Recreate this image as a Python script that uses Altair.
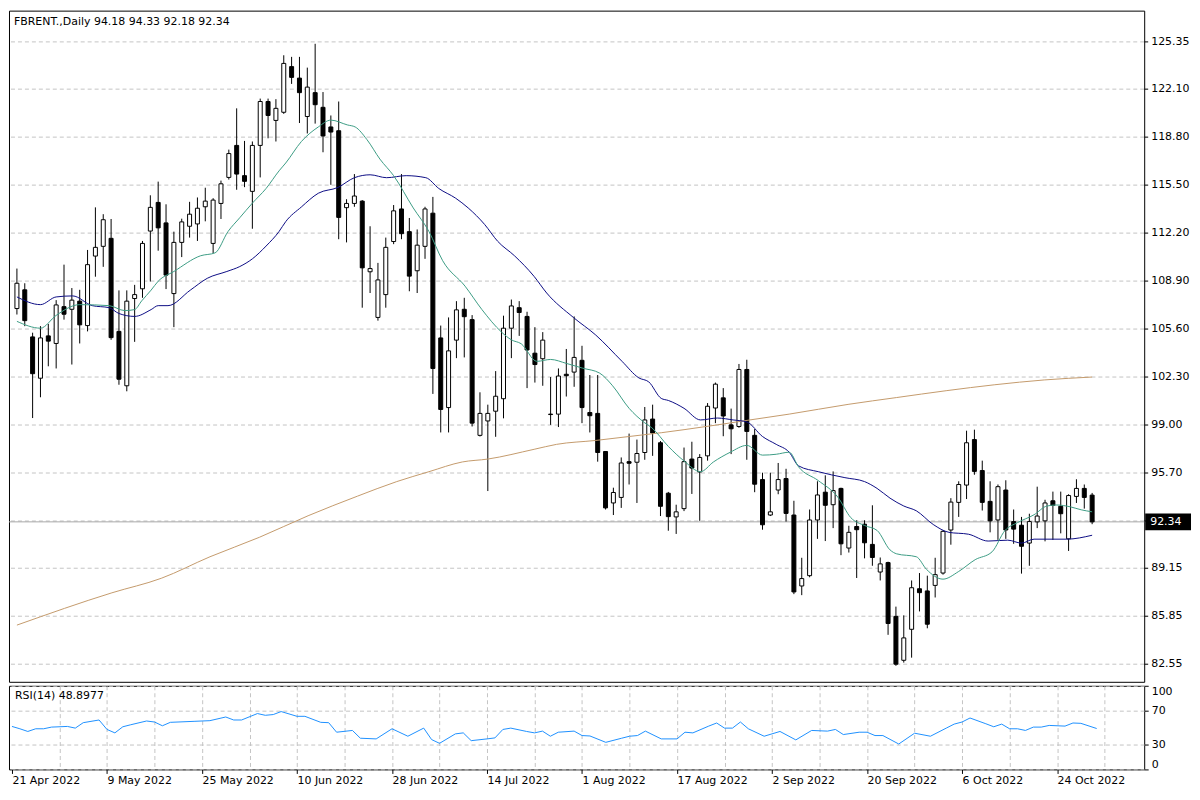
import altair as alt
import pandas as pd

# ---------------- data ----------------
opens = [107.01,108.30,105.06,102.22,105.13,104.61,107.14,106.96,107.52,105.84,
         110.62,111.29,111.84,105.44,101.70,107.70,108.37,112.34,114.31,112.90,
         108.04,111.56,112.67,112.83,114.01,111.49,114.24,116.03,118.23,116.15,
         115.07,118.23,121.25,119.95,120.51,123.65,122.86,120.22,121.86,120.85,
         119.50,119.24,113.95,114.24,114.40,109.54,106.40,107.97,111.62,113.86,
         112.30,109.61,111.29,113.57,104.99,100.20,104.84,106.96,106.25,98.29,
         99.28,99.95,100.81,105.66,107.07,106.47,103.94,103.56,99.75,99.75,
         102.49,102.64,103.45,99.86,99.80,97.18,93.64,94.02,96.48,96.44,
         97.11,99.41,97.78,94.31,92.68,93.25,96.66,95.77,96.88,100.17,
         100.87,99.01,98.90,102.82,98.29,95.25,92.81,94.53,95.32,92.81,
         87.93,88.64,92.47,94.38,93.52,94.64,90.54,92.02,92.18,90.79,
         88.89,89.54,85.84,82.82,84.95,87.74,87.59,87.97,88.82,91.78,
         93.68,94.87,98.00,95.87,93.75,92.47,94.53,92.36,92.11,90.88,
         92.34,92.41,93.79,93.41,91.17,94.09,94.64,94.18]
highs = [109.76,108.75,105.35,105.80,105.95,107.59,110.03,108.42,108.30,111.04,
         113.97,113.50,113.17,108.26,108.26,108.64,111.66,114.80,115.74,114.18,
         112.30,113.19,114.35,114.65,115.32,114.60,115.81,117.94,120.78,118.54,
         118.50,121.45,121.45,121.41,124.43,124.32,124.32,123.58,125.22,121.90,
         120.29,121.25,114.53,116.26,114.47,112.67,110.15,111.89,114.13,116.26,
         113.24,112.45,114.01,114.69,105.84,106.40,107.52,107.75,106.56,101.25,
         100.40,102.71,106.52,107.63,107.52,106.79,105.73,105.39,102.30,102.89,
         104.23,106.47,104.45,102.44,102.44,97.20,94.69,96.77,98.41,98.00,
         100.24,100.40,97.90,94.40,93.52,97.45,97.85,97.00,100.51,101.92,
         101.54,100.13,103.20,103.49,98.72,95.72,95.72,96.39,95.99,93.79,
         89.87,93.19,95.13,95.54,95.81,94.69,92.07,92.45,92.45,93.48,
         89.89,89.60,86.51,85.91,88.31,88.82,88.64,89.87,91.75,93.97,
         95.13,98.61,98.68,96.55,95.13,94.91,95.20,93.19,92.68,92.90,
         94.76,93.86,94.42,94.42,94.24,95.27,94.91,94.33]
lows = [106.60,105.80,99.48,100.91,103.04,102.89,106.25,103.16,104.61,105.44,
        109.20,109.88,104.86,101.77,101.32,104.72,107.75,108.87,110.99,108.35,
        105.73,110.55,111.89,111.66,113.01,110.82,113.17,115.88,115.18,115.36,
        112.50,116.03,118.72,118.50,120.40,122.46,119.77,119.05,119.73,117.76,
        115.52,111.78,111.56,114.01,107.07,108.08,106.18,107.07,111.44,111.78,
        108.20,108.08,110.43,101.14,98.49,98.49,103.60,103.65,98.90,98.21,
        94.46,98.19,99.46,103.60,105.13,101.54,101.92,101.70,99.01,98.86,
        100.96,101.63,99.13,98.49,96.48,93.19,92.81,93.30,94.91,93.64,
        96.61,96.88,92.74,91.73,91.51,93.08,94.26,92.41,96.55,99.13,
        98.23,97.00,98.81,96.61,94.38,91.80,92.74,94.24,92.36,87.37,
        87.30,88.53,91.17,91.02,91.91,90.05,90.23,88.48,89.83,89.32,
        88.31,84.57,82.44,82.66,83.00,86.18,85.02,87.14,88.71,90.77,
        92.68,93.91,95.58,93.12,91.62,91.10,91.17,90.83,88.78,89.32,
        91.91,91.00,91.10,91.55,90.34,93.64,93.25,92.18]
closes = [108.75,106.18,102.53,104.99,104.77,107.26,106.62,107.59,105.89,110.03,
          111.22,113.12,105.01,102.15,107.52,107.97,111.49,113.97,112.56,109.31,
          111.56,112.97,113.50,113.91,114.40,114.47,115.59,117.67,116.26,115.76,
          118.23,121.25,120.29,120.78,123.87,122.91,121.86,122.24,121.03,118.88,
          119.15,113.28,114.24,114.75,109.81,109.76,108.98,111.22,113.73,112.16,
          109.24,111.37,113.86,102.89,100.07,104.10,106.92,106.45,99.13,99.80,
          99.80,100.98,105.66,107.19,106.74,104.16,103.16,104.84,99.72,102.37,
          102.39,103.65,100.20,99.64,97.11,93.30,94.36,96.39,96.37,97.04,
          99.35,98.45,93.41,92.70,93.03,96.48,96.04,96.77,100.29,101.81,
          99.62,98.74,102.82,98.56,94.93,92.14,93.03,95.25,92.92,87.52,
          88.44,92.47,94.19,93.48,94.49,90.83,91.62,91.80,90.90,89.89,
          89.45,85.35,82.55,84.36,87.81,87.47,85.30,88.71,91.69,93.70,
          94.91,97.78,95.81,93.68,92.41,94.76,91.78,91.84,90.66,92.36,
          92.74,93.64,93.48,92.90,94.15,94.64,94.02,92.34]

tick_labels = ["21 Apr 2022", "9 May 2022", "25 May 2022", "10 Jun 2022",
               "28 Jun 2022", "14 Jul 2022", "1 Aug 2022", "17 Aug 2022",
               "2 Sep 2022", "20 Sep 2022", "6 Oct 2022", "24 Oct 2022"]
price_ticks = [125.35, 122.10, 118.80, 115.50, 112.20, 108.90, 105.60, 102.30,
               99.00, 95.70, 92.40, 89.15, 85.85, 82.55]

ma_fast_idx = [0,3,5,8,11.75,13.75,15,15.9,17.1,18,20,23.4,25.25,26.9,28.4,30,31.75,33.4,34.25,36.25,
               38.4,40,42.1,43.1,44.6,46.25,48,50.5,52.5,54.25,57.1,59.25,61.75,63,64.25,66.25,68,70,72.1,74.25,
               75.9,78,80,80.9,83,85,87.1,88.75,90.9,93,95,96.75,98.4,99.6,102.1,104.6,106.25,108,109.6,111.25,
               112.1,114.6,115.9,118,120,122.1,124.25,125.9,127.5,129.6,131.25,132.5,134.25,135.6,137]
ma_fast_val = [106.13,105.66,106.54,107.28,107.21,106.87,106.94,107.54,108.28,108.89,
               109.56,110.64,110.84,112.31,113.26,114.26,115.27,116.48,117.02,118.50,
               119.50,119.97,119.64,119.50,118.63,117.29,116.15,113.93,112.31,110.30,
               108.55,106.94,105.39,104.86,104.59,103.38,103.51,103.24,102.91,102.57,
               101.70,100.15,99.15,98.81,97.53,96.53,95.79,96.46,97.13,97.60,
               96.93,96.99,97.13,96.12,95.18,94.04,92.63,92.09,91.75,90.41,
               90.14,89.94,89.07,88.40,88.93,89.74,90.28,91.75,92.29,92.83,
               93.43,93.50,93.37,93.17,93.03]

ma_mid_idx = [0,3,5,7.1,9.6,11.75,13,15,17.1,18,19.25,22.1,24.25,26.75,28.4,30,31.75,33.4,34.25,36.25,
              38.4,40.9,43,45,47.1,49.6,52.1,53.75,55.9,57.5,59.6,61.25,63.4,65.9,67.5,70.9,73.75,77.1,79.25,80.5,
              82.1,83,85,87.1,89.25,91.25,93,95,96.75,98.4,99.6,102.1,105.5,108,109.6,111.25,113,114.6,116.75,118.75,
              121.25,123.75,126.25,128,129.6,133.75,137]
ma_mid_val = [107.81,107.28,107.81,107.88,107.21,107.07,106.67,106.47,106.94,107.21,
              107.21,108.28,109.09,109.56,109.90,110.43,111.31,112.31,112.99,114.00,
              114.94,115.34,116.01,116.21,116.01,116.15,116.01,115.27,114.60,113.93,
              112.79,111.64,110.64,109.22,108.08,106.40,105.19,103.38,102.24,101.97,
              100.83,100.69,100.15,99.35,99.48,99.35,99.21,98.21,97.67,97.13,
              96.19,95.79,95.38,95.11,94.64,93.97,93.43,93.10,92.16,91.62,
              91.49,91.02,91.08,90.88,91.15,91.15,91.42]

ma_slow_idx = [0,12.1,18.4,24.6,30.9,37.1,43.4,48.4,52.5,56.75,60,65.9,68.75,73.75,78,82.1,85,89.25,93.4,98.4,
               105.9,112.1,118.4,124.6,130.9,137]
ma_slow_val = [85.24,87.46,88.46,89.94,91.28,92.76,94.11,95.11,95.79,96.46,96.66,97.33,97.67,97.94,98.21,
               98.47,98.68,99.01,99.35,99.75,100.42,100.89,101.36,101.77,102.10,102.30]

rsi_idx = [0,1,2,3,4,5,7,8,9,11,12,13,14,15,17,18,19,20,23,25,27,28,29,31,32,33,34,36,37,39,
           40,41,43,44,46,48,50,52,53,54,56,57,58,60,61,62,63,65,66,67,68,69,71,72,73,75,77,78,79,80,
           82,84,85,86,88,89,90,91,92,93,95,97,99,101,103,104,105,107,108,109,110,112,114,116,118,119,
           120,121,123,124,125,126,127,128,129,130,131,133,134,135,137]
rsi_val = [51.4,48.6,45.4,48.6,48.6,50.6,51.4,49.4,55.9,59.1,47.8,43.7,51.0,53.4,57.9,56.7,52.2,56.3,57.5,58.3,
           62.7,59.1,59.1,66.8,64.7,65.6,69.2,63.5,63.5,56.3,55.9,44.5,46.6,37.3,36.5,48.6,39.7,49.4,35.7,31.2,
           42.5,43.7,34.4,36.5,37.7,47.8,49.4,45.4,43.7,45.8,39.7,44.5,45.8,40.5,40.0,32.4,37.3,39.7,40.5,45.8,
           36.5,36.5,44.5,43.7,51.8,55.5,49.4,49.4,56.7,48.6,39.7,45.4,35.3,46.6,45.8,47.8,41.7,44.5,44.5,40.5,
           40.5,30.4,43.3,39.7,49.4,54.2,56.7,61.5,54.6,51.0,54.2,48.6,48.6,46.6,50.6,50.6,52.6,51.8,55.5,55.1,
           48.9]
rsi_label = "RSI(14) 48.8977"
symbol_label = "FBRENT.,Daily"

# ---------------- frames ----------------
n = len(closes)
candles = pd.DataFrame({"idx": list(range(n)), "open": opens, "high": highs,
                        "low": lows, "close": closes})
fast_df = pd.DataFrame({"idx": ma_fast_idx, "val": ma_fast_val})
mid_df = pd.DataFrame({"idx": ma_mid_idx, "val": ma_mid_val})
slow_df = pd.DataFrame({"idx": ma_slow_idx, "val": ma_slow_val})
rsi_df = pd.DataFrame({"idx": rsi_idx, "rsi": rsi_val})
grid_df = pd.DataFrame({"tick": price_ticks})
one = pd.DataFrame({"a": [0]})

# ---------------- styling ----------------
W, H1, H2 = 1140, 674, 84
FONT = "DejaVu Sans"
GRID = "#c4c4c4"
DASH = [4, 3]
last = closes[-1]

xscale = alt.Scale(domain=[-0.375, 143], nice=False, zero=False)
yscale = alt.Scale(domain=[81.34, 127.5], nice=False, zero=False)
grid_vals = list(range(6, 143, 6))

x_main_axis = alt.Axis(values=grid_vals, labels=False, ticks=False, domain=False,
                       grid=True, gridColor=GRID, gridDash=DASH, title=None)


def X():
    return alt.X("idx:Q", scale=xscale, axis=None)


def Y(field):
    return alt.Y(field, scale=yscale, axis=None)


# vertical grid comes from the x axis of this invisible layer
axis_layer = alt.Chart(grid_df).mark_point(opacity=0).encode(
    x=alt.X("tick_x:Q", scale=xscale, axis=x_main_axis),
    y=Y("tick:Q")
).transform_calculate(tick_x="0")

# price scale on the right: grid, ticks and labels from the tick list
hgrid = alt.Chart(grid_df).mark_rule(color=GRID, strokeDash=DASH, strokeWidth=1).encode(
    y=Y("tick:Q"))
yticks = alt.Chart(grid_df).mark_rule(color="black", strokeWidth=1).encode(
    x=alt.value(W), x2=alt.value(W + 4), y=Y("tick:Q"))
ylabels = alt.Chart(grid_df).transform_filter(
    f"abs(datum.tick - {last}) > 0.6"
).mark_text(align="left", baseline="middle", color="black", font=FONT, fontSize=11).encode(
    x=alt.value(W + 7), y=Y("tick:Q"), text=alt.Text("tick:Q", format=".2f"))

last_row = alt.Chart(candles).transform_filter(f"datum.idx == {n - 1}")

wicks = alt.Chart(candles).mark_rule(color="black", strokeWidth=1).encode(
    x=X(), y=Y("low:Q"), y2="high:Q")
bodies = alt.Chart(candles).mark_bar(size=4, stroke="black", strokeWidth=1).encode(
    x=X(), y=Y("open:Q"), y2="close:Q",
    fill=alt.condition("datum.close >= datum.open", alt.value("white"), alt.value("black")))
price_line = last_row.mark_rule(color="#a8a8a8", strokeWidth=1).encode(y=Y("close:Q"))


def ma(df, color):
    return alt.Chart(df).mark_line(color=color, strokeWidth=1, interpolate="monotone").encode(
        x=X(), y=Y("val:Q"))


slow = ma(slow_df, "#c49a6c")
mid = ma(mid_df, "#0c0c84")
fast = ma(fast_df, "#3c9c84")

box = last_row.transform_calculate(
    top="datum.close + 0.57", bot="datum.close - 0.57"
).mark_rect(color="black").encode(
    x=alt.value(W + 1), x2=alt.value(W + 47), y=Y("top:Q"), y2="bot:Q")
box_text = last_row.mark_text(align="left", baseline="middle", color="white",
                              font=FONT, fontSize=11).encode(
    x=alt.value(W + 6), y=Y("close:Q"), text=alt.Text("close:Q", format=".2f"))
title = alt.Chart(one).mark_text(align="left", baseline="top", color="black",
                                 font=FONT, fontSize=11).encode(
    x=alt.value(5), y=alt.value(5),
    text=alt.value(f"{symbol_label}  {opens[-1]:.2f} {highs[-1]:.2f} {lows[-1]:.2f} {closes[-1]:.2f}"))

main = alt.layer(axis_layer, hgrid, yticks, ylabels, price_line, wicks, bodies,
                 slow, mid, fast, box, box_text, title).properties(width=W, height=H1)

labels_js = "[" + ",".join(f"'{t}'" for t in tick_labels) + "]"
x_rsi_axis = alt.Axis(values=list(range(0, 139, 6)),
                      labelExpr=f"datum.value % 12 == 0 ? {labels_js}[datum.value / 12] : ''",
                      labelAlign="left", labelFlush=False, labelOverlap=False,
                      labelFont=FONT, labelFontSize=11, labelColor="black", labelPadding=1,
                      tickSize=4, tickColor="black",
                      tickOpacity={"condition": {"test": "datum.value % 12 == 0", "value": 1}, "value": 0},
                      grid=True, gridColor=GRID, gridDash=DASH,
                      gridOpacity={"condition": {"test": "datum.value > 0", "value": 1}, "value": 0},
                      domain=False, title=None)
y_rsi_axis = alt.Axis(orient="right", values=[0, 30, 70, 100], labelFlush=True,
                      grid=True, gridColor=GRID, gridDash=DASH, tickSize=4, tickColor="black",
                      domain=False, labelFont=FONT, labelFontSize=11, labelColor="black",
                      labelPadding=3, title=None)

rsi_line = alt.Chart(rsi_df).mark_line(color="#1e90ff", strokeWidth=1).encode(
    x=alt.X("idx:Q", scale=xscale, axis=x_rsi_axis),
    y=alt.Y("rsi:Q", scale=alt.Scale(domain=[0, 100], nice=False), axis=y_rsi_axis))
rsi_text = alt.Chart(one).mark_text(align="left", baseline="top", color="black",
                                    font=FONT, fontSize=11).encode(
    x=alt.value(6), y=alt.value(4), text=alt.value(rsi_label))
rsi = alt.layer(rsi_line, rsi_text).properties(width=W, height=H2)

chart = alt.vconcat(main, rsi, spacing=2).properties(
    padding=0, background="white"
).configure_view(stroke="black", strokeWidth=1)

chart.save("out.html", embed_options={"renderer": "svg", "actions": False})
